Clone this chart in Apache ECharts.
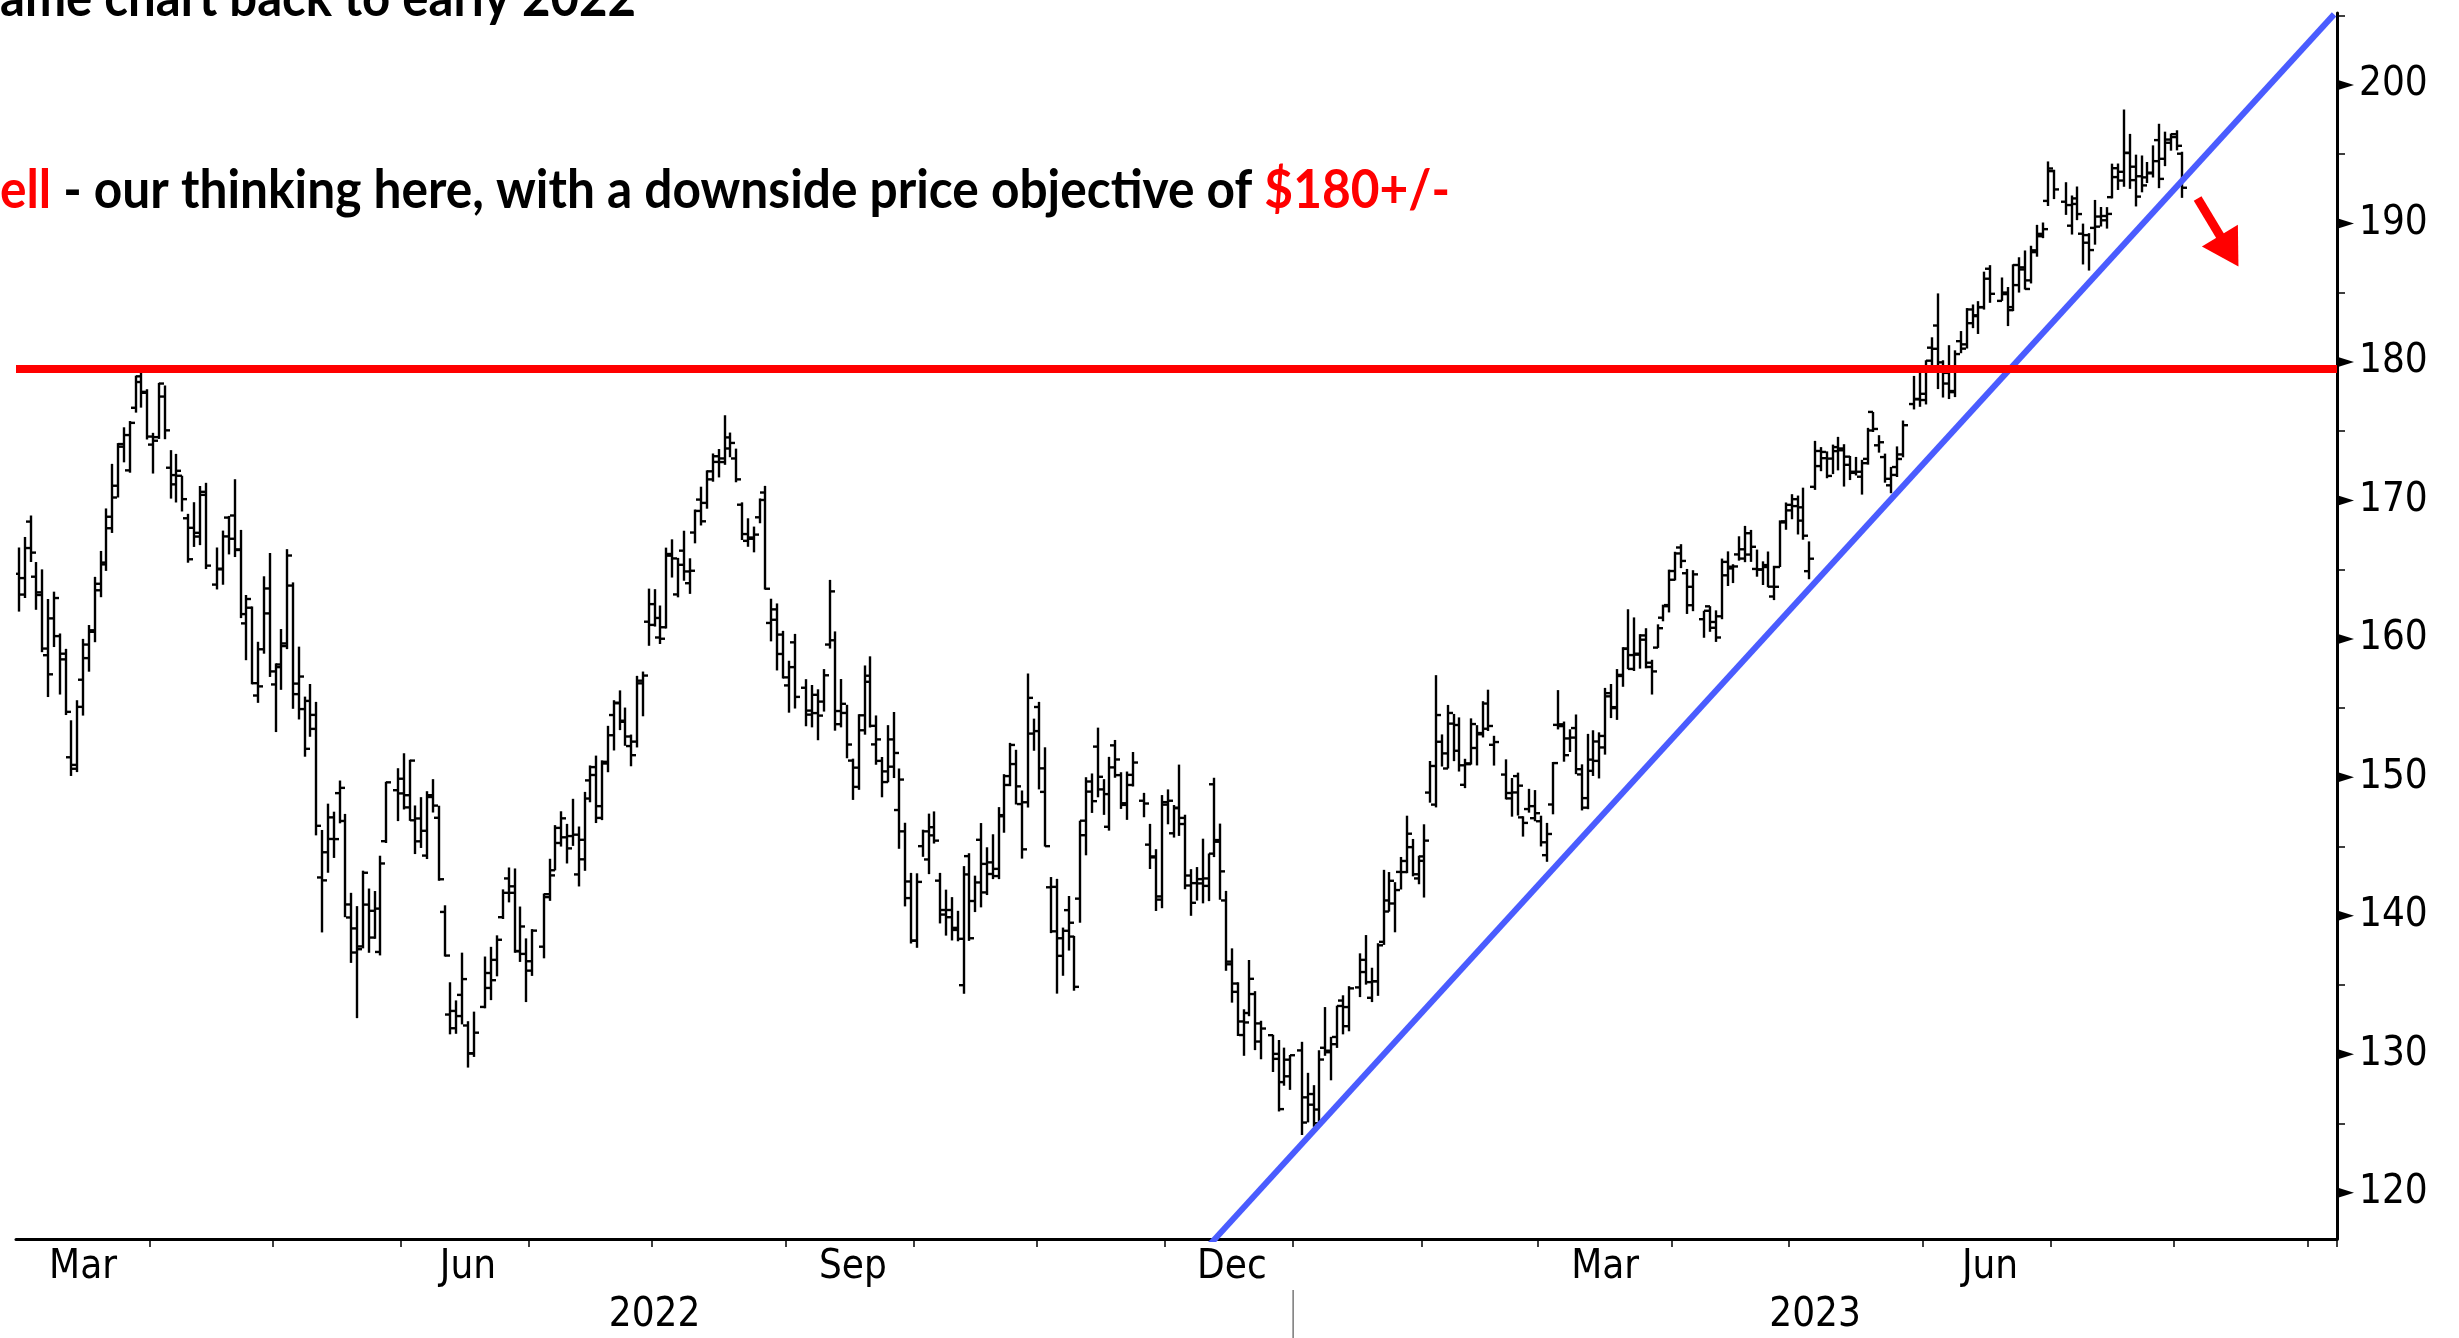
<!DOCTYPE html>
<html>
<head>
<meta charset="utf-8">
<script src="https://cdn.jsdelivr.net/npm/echarts@6/dist/echarts.min.js"></script>
<style>
html,body{margin:0;padding:0;background:#fff;}
#chart{width:2459px;height:1338px;}
</style>
</head>
<body>
<div id="chart"></div>
<script>
// ---------------- DATA (daily OHLC: [open, high, low, close]; null = market holiday) ----------------
const mar22 = [[164.70,166.60,161.97,163.20],[164.39,167.36,162.95,166.56],[168.47,168.91,165.55,166.23],[164.49,165.55,162.10,163.17],
[163.36,165.02,159.04,159.30],[158.82,162.88,155.80,157.44],[161.48,163.41,159.41,162.95],[160.20,160.39,155.98,158.52],[158.93,159.28,154.50,154.73],
[151.45,154.12,150.10,150.62],[150.90,155.57,150.38,155.09],[157.05,160.00,154.46,159.59],[158.61,161.00,157.63,160.62],[160.51,164.48,159.76,163.98],
[163.51,166.35,163.01,165.38],[165.51,169.42,164.91,168.82],[167.99,172.64,167.65,170.21],[171.06,174.14,170.21,174.07],[173.88,175.28,172.75,174.72],
[172.17,175.73,172.00,175.60],[176.69,179.01,176.34,178.96],[178.55,179.61,176.70,177.77],[177.84,178.03,174.40,174.61]];
const apr22 = [[174.03,174.88,171.94,174.31],
[174.57,178.49,174.44,178.44],[177.50,178.30,174.42,175.06],[172.36,173.63,170.13,171.83],[171.16,173.36,169.85,172.14],[171.78,171.78,169.20,170.09],
[168.71,169.03,165.50,165.75],[168.02,169.87,166.64,167.66],[167.39,171.04,166.77,170.40],[170.62,171.27,165.04,165.29],null,
[163.92,166.60,163.57,165.07],[165.02,167.82,163.91,167.40],[168.76,168.88,166.10,167.23],[168.91,171.53,165.91,166.42],[166.46,167.87,161.50,161.79],
[161.12,163.17,158.46,162.88],[162.25,162.34,156.72,156.80],[155.91,159.79,155.38,156.57],[159.25,164.52,158.93,163.64],[161.84,166.20,157.25,157.65]];
const may22 = [[156.71,158.23,153.27,157.96],[158.15,160.71,156.32,159.48],[159.67,166.48,159.26,166.02],[163.85,164.08,154.95,156.77],[156.01,159.44,154.18,157.28],
[154.93,155.83,151.49,152.06],[155.52,156.74,152.93,154.51],[153.50,155.45,145.81,146.50],[142.77,146.20,138.80,142.56],[144.59,148.10,143.11,147.11],
[145.55,147.52,144.18,145.54],[148.86,149.77,146.68,149.24],[146.85,147.36,139.90,140.82],[139.88,141.66,136.60,137.35],[139.09,140.70,132.61,137.59],
[137.79,143.26,137.65,143.11],[140.81,141.97,137.33,140.36],[138.43,141.79,138.34,140.52],[137.39,144.34,137.14,143.78],[145.39,149.68,145.26,149.64],
null,[149.07,150.66,146.84,148.84]];
const jun22 = [[149.90,151.74,147.68,148.71],[147.83,151.27,146.86,151.21],[146.90,147.97,144.46,145.38],
[147.03,148.57,144.90,146.14],[144.35,149.00,144.10,148.71],[148.58,149.87,147.46,147.96],[147.08,147.95,142.53,142.64],[140.28,140.76,137.06,137.13],
[132.87,135.20,131.44,131.88],[133.13,133.89,131.48,132.76],[134.29,137.34,132.16,135.43],[132.08,132.39,129.04,130.06],[130.07,133.08,129.81,131.56],
null,[133.42,137.06,133.32,135.87],[134.79,137.76,133.91,135.35],[136.82,138.59,135.63,138.27],[139.90,141.91,139.77,141.66],
[142.70,143.49,140.97,141.66],[142.13,143.42,137.33,137.44],[137.46,140.67,136.67,139.23],[137.25,138.37,133.77,136.72]];
const jul22 = [[136.04,139.04,135.66,138.93],
null,[137.77,141.61,136.93,141.56],[141.35,144.12,141.08,142.92],[143.29,146.55,143.28,146.35],[145.26,147.55,145.00,147.04],
[145.67,146.64,143.78,144.87],[145.76,148.45,145.05,145.86],[142.99,146.45,142.12,145.49],[144.08,148.95,143.25,148.47],[149.78,150.86,148.20,150.17],
[150.74,151.57,146.70,147.07],[147.92,151.23,146.91,151.00],[151.12,153.72,150.37,153.04],[154.50,155.57,151.94,155.35],[155.39,156.28,153.41,154.09],
[154.01,155.04,152.28,152.95],[152.26,153.09,150.80,151.60],[152.58,157.33,152.16,156.79],[156.98,157.64,154.41,157.35],[161.24,163.63,159.50,162.51]];
const aug22 = [[161.01,163.59,160.89,161.51],[160.10,162.41,159.63,160.01],[160.84,166.59,160.75,166.13],[166.01,167.19,164.43,165.81],[163.21,165.85,163.00,165.35],
[166.37,167.81,164.20,164.87],[164.02,165.82,163.25,164.92],[167.68,169.34,166.90,169.24],[170.06,170.99,168.19,168.49],[169.82,172.17,169.40,172.10],
[171.52,173.39,171.35,173.19],[172.78,173.71,171.66,173.03],[172.77,176.15,172.57,174.55],[173.75,174.90,173.12,174.15],[173.03,173.74,171.31,171.52],
[169.69,169.86,167.14,167.57],[167.08,168.71,166.65,167.23],[167.32,168.11,166.25,167.53],[168.78,170.14,168.35,170.03],[170.57,171.05,163.56,163.62],
[161.15,162.90,159.82,161.38],[162.13,162.56,157.72,158.91],[160.31,160.58,157.14,157.22]];
const sep22 = [[156.64,158.42,154.67,157.96],[159.75,160.36,154.97,155.81],
null,[156.47,157.09,153.69,154.53],[154.82,156.67,153.61,155.96],[154.64,156.36,152.68,154.46],[155.47,157.82,154.75,157.37],
[159.59,164.26,159.30,163.43],[159.90,160.54,153.37,153.84],[154.79,157.10,153.61,155.31],[154.65,155.24,151.38,152.37],[151.21,151.35,148.37,150.70],
[149.31,154.56,149.10,154.48],[153.40,158.08,153.08,156.90],[157.34,158.74,153.60,153.72],[152.38,154.47,150.91,152.74],[151.19,151.47,148.56,150.43],
[149.66,153.77,149.64,150.77],[152.74,154.72,149.95,151.76],[147.64,150.64,144.84,149.84],[146.10,146.72,140.68,142.48],[141.28,143.10,138.00,138.20]];
const oct22 = [[138.21,143.07,137.69,142.45],[145.03,146.22,144.26,146.10],[144.07,147.38,143.01,146.40],[145.81,147.54,145.22,145.43],[142.54,143.10,139.45,140.09],
[140.42,141.89,138.57,140.42],[139.90,141.35,138.22,138.98],[139.13,140.36,138.16,138.34],[134.99,143.59,134.37,142.99],[144.31,144.52,138.19,138.38],
[141.07,142.90,140.27,142.41],[145.49,146.70,140.61,143.75],[141.69,144.95,141.50,143.86],[143.02,145.89,142.65,143.39],[142.87,147.85,142.65,147.27],
[147.19,150.23,146.00,149.45],[150.09,152.49,149.36,152.34],[150.96,151.99,148.04,149.35],[148.07,149.05,144.13,144.80],[148.20,157.50,147.82,155.74],
[153.16,154.24,151.92,153.34]];
const nov22 = [[155.08,155.45,149.13,150.65],[148.95,152.17,145.00,145.03],[142.06,142.80,138.75,138.88],[142.09,142.67,134.38,138.38],
[137.11,139.15,135.67,138.92],[140.41,141.43,137.49,139.50],[138.50,138.55,134.59,134.87],[141.24,146.87,139.50,146.87],[145.82,150.01,144.37,149.70],
[148.97,150.28,147.43,148.28],[152.22,153.59,148.56,150.04],[149.13,149.87,147.29,148.79],[146.43,151.48,146.15,150.72],[152.31,152.70,149.97,151.29],
[150.16,150.37,147.72,148.01],[148.13,150.42,146.93,150.18],[149.45,151.83,149.34,151.07],null,[148.31,148.88,147.12,148.11],
[145.14,146.64,143.38,144.22],[144.29,144.81,140.35,141.17],[141.40,148.72,140.55,148.03]];
const dec22 = [[148.21,149.13,146.61,148.31],[145.96,148.00,145.65,147.81],
[147.77,150.92,145.77,146.63],[147.07,147.30,141.92,142.91],[142.19,143.37,140.00,140.94],[142.36,143.52,141.10,142.65],[142.34,145.57,140.90,142.16],
[142.70,144.50,141.06,144.49],[149.50,149.97,144.24,145.47],[145.35,146.66,141.16,143.21],[141.11,141.80,136.03,136.50],[136.69,137.65,133.73,134.51],
[135.11,135.20,131.32,132.37],[131.39,133.25,129.89,132.30],[132.98,136.81,132.75,135.45],[134.35,134.56,130.30,132.23],[130.92,132.42,129.64,131.86],
null,[131.38,131.41,128.72,130.03],[129.67,131.03,125.87,126.04],[127.99,130.48,127.73,129.61],[128.41,129.95,127.43,129.93]];
const jan23 = [null,[130.28,130.90,124.17,125.07],[126.89,128.66,125.08,126.36],[127.13,127.77,124.76,125.02],[126.01,130.29,124.89,129.62],
[130.47,133.41,129.89,130.15],[130.26,131.26,128.12,130.73],[131.25,133.51,130.46,133.49],[133.88,134.26,131.44,133.41],[132.03,134.92,131.66,134.76],
null,[134.83,137.29,134.13,135.94],[136.82,138.61,135.03,135.21],[134.08,136.25,133.77,135.27],[135.28,138.02,134.22,137.87],
[138.12,143.32,137.90,141.11],[140.31,143.16,140.30,142.53],[140.89,142.43,138.81,141.86],[143.17,144.25,141.90,143.96],[143.16,147.23,143.08,145.93],
[144.96,145.55,142.85,143.00],[142.70,144.34,142.28,144.29]];
const feb23 = [[143.97,146.61,141.32,145.43],[148.90,151.18,148.17,150.82],[148.03,157.38,147.83,154.50],
[152.57,153.10,150.78,151.73],[150.64,155.23,150.64,154.65],[153.88,154.58,151.17,151.92],[153.78,154.33,150.42,150.87],[149.46,151.34,149.22,151.01],
[150.95,154.26,150.92,153.85],[152.12,153.77,150.86,153.20],[153.11,155.50,152.88,155.33],[153.51,156.33,153.35,153.71],[152.35,153.00,150.85,152.55],
null,[150.20,151.30,148.41,148.48],[148.87,149.95,147.16,148.91],[150.09,150.34,147.24,149.40],[147.11,147.19,145.72,146.71],
[147.71,149.17,147.45,147.92],[147.05,149.08,146.83,147.41]];
const mar23 = [[146.83,147.23,145.01,145.31],[144.38,146.71,143.90,145.91],[148.04,151.11,147.33,151.03],
[153.79,156.30,153.46,153.83],[153.70,154.03,151.13,151.60],[152.81,153.47,151.83,152.87],[153.56,154.54,150.23,150.59],[150.21,150.94,147.61,148.50],
[147.81,153.14,147.70,150.47],[151.28,153.40,150.10,152.59],[151.19,153.25,149.92,152.99],[152.16,156.46,151.64,155.85],[156.08,156.74,154.28,155.00],
[155.07,157.82,154.15,157.40],[157.32,159.40,156.54,159.28],[159.30,162.14,157.81,157.83],[158.83,161.55,157.68,158.93],[158.86,160.34,157.85,160.25],
[159.94,160.77,157.87,158.28],[157.97,158.49,155.98,157.65],[159.37,161.05,159.35,160.77],[161.53,162.47,161.27,162.36],[162.44,165.00,161.91,164.90]];
const apr23 = [[164.27,166.29,164.22,166.17],[166.60,166.84,165.11,165.63],[164.74,165.05,161.80,163.76],[162.43,164.96,162.00,164.66],null,
[161.42,162.03,160.08,162.03],[162.35,162.36,160.51,160.80],[161.22,162.06,159.78,160.10],[161.63,165.80,161.42,165.56],[164.59,166.32,163.82,165.21],
[165.09,165.39,164.03,165.23],[166.10,167.41,165.65,166.47],[165.80,168.16,165.54,167.63],[166.09,167.87,165.56,166.65],[165.05,166.45,164.49,165.02],
[165.00,165.60,163.89,165.33],[165.19,166.31,163.73,163.77],[163.06,165.28,162.80,163.76],[165.19,168.56,165.19,168.41],[168.49,169.85,167.88,169.68]];
const may23 = [[169.28,170.45,168.64,169.59],[170.09,170.35,167.54,168.54],[169.50,170.92,167.16,167.45],[164.89,167.04,164.31,165.79],[170.98,174.30,170.76,173.57],
[172.48,173.85,172.11,173.50],[173.05,173.54,171.60,171.77],[173.02,174.03,171.90,173.56],[173.85,174.59,172.17,173.75],[173.62,174.06,171.00,172.57],
[173.16,173.21,171.47,172.07],[171.99,173.14,171.80,172.07],[171.71,172.93,170.42,172.69],[173.00,175.24,172.58,175.05],[176.39,176.39,174.94,175.16],
[173.98,174.71,173.45,174.20],[173.13,173.38,171.28,171.56],[171.09,172.42,170.52,171.84],[172.41,173.90,171.69,172.99],[173.32,175.77,173.11,175.43],
null,[176.96,178.99,176.57,177.30],[177.33,179.35,176.76,177.25]];
const jun23 = [[177.70,180.12,176.93,180.09],[181.03,181.78,179.26,180.95],
[182.63,184.95,178.04,179.58],[179.97,180.12,177.43,179.21],[178.44,181.21,177.32,177.82],[177.90,180.84,177.46,180.57],[181.50,182.23,180.63,180.96],
[181.27,183.89,180.97,183.79],[182.80,184.15,182.44,183.31],[183.37,184.39,182.02,183.95],[183.96,186.52,183.78,186.01],[186.73,186.99,184.27,184.92],
null,[184.41,186.10,184.41,185.01],[184.90,185.41,182.59,183.96],[183.74,187.05,183.67,187.00],[185.55,187.56,185.01,186.68],
[186.83,188.05,185.23,185.27],[185.89,188.39,185.67,188.06],[187.93,189.90,187.60,189.25],[189.08,190.07,188.94,189.59],[191.63,194.48,191.26,193.97]];
const jul23 = [[193.78,193.88,191.76,192.46],null,[191.57,192.98,190.62,191.33],[189.84,192.02,189.20,191.81],[191.41,192.67,190.24,190.68],
[189.26,189.99,187.04,188.61],[189.16,189.30,186.60,188.08],[189.68,191.70,188.47,189.77],[190.50,191.19,189.78,190.54],[190.23,191.18,189.63,190.69],
[191.90,194.32,191.81,193.99],[193.35,194.33,192.42,193.73],[193.10,198.23,192.65,195.10],[195.09,196.47,192.50,193.13],[194.10,194.97,191.23,191.94],
[193.41,194.91,192.25,192.75],[193.33,194.44,192.92,193.62],[193.67,195.64,193.32,194.50],[196.02,197.20,192.55,193.22],[194.67,196.63,194.14,195.83],
[196.06,196.49,195.26,196.45]];
const aug23 = [[196.24,196.73,195.28,195.61],[195.04,195.18,191.85,192.58]];

const monthData = [
  ['2022-03', mar22], ['2022-04', apr22], ['2022-05', may22], ['2022-06', jun22], ['2022-07', jul22], ['2022-08', aug22],
  ['2022-09', sep22], ['2022-10', oct22], ['2022-11', nov22], ['2022-12', dec22], ['2023-01', jan23], ['2023-02', feb23],
  ['2023-03', mar23], ['2023-04', apr23], ['2023-05', may23], ['2023-06', jun23], ['2023-07', jul23], ['2023-08', aug23]
];
const axisStart = '2022-03-01';
const axisEnd = '2023-09-07';
const monthNames = ['Jan','Feb','Mar','Apr','May','Jun','Jul','Aug','Sep','Oct','Nov','Dec'];
const labelledMonths = ['2022-03','2022-06','2022-09','2022-12','2023-03','2023-06'];
const yearLabels = ['2022', '2023'];
const yTickLabels = [120, 130, 140, 150, 160, 170, 180, 190, 200];
const yMinorTicks = [120,125,130,135,140,145,150,155,160,165,170,175,180,185,190,195,200,205];
const resistanceLevel = 179.5;
const trendPoints = [['2022-12-09', 115.7], ['2023-09-07', 205.1]];
const arrowFrom = [373.6, 191.8];  // [weekday index, price]
const arrowTo = [380.6, 186.9];
const titleLine1 = 'ame chart back to early 2022';
const titleLine2 = ['ell', ' - our thinking here, with a downside price objective of ', '$180+/-'];

// ---------------- build weekday categories ----------------
function fmt(d){ return d.toISOString().slice(0,10); }
const categories = [];
for (let d = new Date(axisStart + 'T00:00:00Z'); fmt(d) <= axisEnd; d.setUTCDate(d.getUTCDate()+1)) {
  const wd = d.getUTCDay();
  if (wd !== 0 && wd !== 6) categories.push(fmt(d));
}
const ohlc = [];
monthData.forEach(([ym, arr]) => {
  const days = categories.filter(c => c.slice(0,7) === ym);
  arr.forEach((v, k) => {
    if (v) ohlc.push([categories.indexOf(days[k]), v[0], v[1], v[2], v[3]]);
  });
});
const monthStart = {}, monthCount = {};
categories.forEach((c, i) => {
  const ym = c.slice(0,7);
  if (monthStart[ym] === undefined) { monthStart[ym] = i; monthCount[ym] = 0; }
  monthCount[ym]++;
});
const labelIdx = new Set(labelledMonths.map(m => monthStart[m] + Math.round((monthCount[m]-1)/2)));
const tickIdx = new Set(Object.keys(monthStart).map(m => monthStart[m]).filter(i => i > 0));

// ---------------- chart ----------------
const chart = echarts.init(document.getElementById('chart'), null, {renderer: 'canvas'});
const axisFont = "'DejaVu Sans Condensed', 'DejaVu Sans', sans-serif";

function renderOHLC(params, api) {
  const i = api.value(0);
  const top = api.coord([i, api.value(2)]);
  const bot = api.coord([i, api.value(3)]);
  const po = api.coord([i, api.value(1)]);
  const pc = api.coord([i, api.value(4)]);
  const x = Math.round(top[0]);
  const t = 5;
  const st = {stroke: '#000', lineWidth: 2.4};
  return {type: 'group', children: [
    {type: 'line', shape: {x1: x, y1: top[1], x2: x, y2: bot[1]}, style: st},
    {type: 'line', shape: {x1: x - t, y1: po[1], x2: x, y2: po[1]}, style: st},
    {type: 'line', shape: {x1: x, y1: pc[1], x2: x + t, y2: pc[1]}, style: st}
  ]};
}

chart.setOption({
  animation: false,
  backgroundColor: '#fff',
  grid: {left: 16, right: 122, top: 13, bottom: 99, containLabel: false},
  xAxis: {
    type: 'category', data: categories, boundaryGap: true,
    axisLine: {show: true, lineStyle: {color: '#000', width: 3}},
    axisTick: {show: true, length: 8, lineStyle: {color: '#000', width: 1.5},
      interval: (i) => tickIdx.has(i)},
    axisLabel: {show: true, margin: 9, fontSize: 40, color: '#000', fontFamily: axisFont,
      interval: (i) => labelIdx.has(i),
      formatter: (v) => monthNames[parseInt(v.slice(5,7),10)-1]},
    splitLine: {show: false}
  },
  yAxis: {
    type: 'value', position: 'right', min: 116.66, max: 205.2, scale: true,
    axisLine: {show: true, lineStyle: {color: '#000', width: 3}},
    axisTick: {show: true, length: 8, inside: false, customValues: yMinorTicks, lineStyle: {color: '#000', width: 1.5}},
    axisLabel: {show: true, margin: 22, fontSize: 40, color: '#000', fontFamily: axisFont, customValues: yTickLabels},
    splitLine: {show: false}
  },
  series: [
    {type: 'custom', name: 'OHLC', renderItem: renderOHLC, data: ohlc, encode: {x: 0, y: [1,2,3,4]}, clip: true, z: 2},
    {type: 'line', name: 'trend', data: trendPoints, symbol: 'none', clip: true, z: 3,
      lineStyle: {color: '#4a5cff', width: 6},
      markLine: {silent: true, symbol: 'none', label: {show: false},
        lineStyle: {color: '#ff0000', width: 8, type: 'solid'},
        data: [{yAxis: resistanceLevel}]}
    }
  ]
});

// ---------------- annotations positioned from data coordinates ----------------
function xCenter(i) { return chart.convertToPixel({xAxisIndex: 0}, categories[i]); }
const band = xCenter(1) - xCenter(0);
function xAt(idx) { return xCenter(0) + idx * band; }
function xBoundary(i) { return xCenter(0) + (i - 0.5) * band; }
function yAt(v) { return chart.convertToPixel({yAxisIndex: 0}, v); }
const axisY = yAt(116.66);
const axisX = xBoundary(categories.length);

const graphics = [];
yTickLabels.forEach(v => {
  const y = yAt(v);
  graphics.push({type: 'polygon', shape: {points: [[axisX + 1, y - 5], [axisX + 1, y + 5], [axisX + 17, y]]},
    style: {fill: '#000'}, z: 10});
});
const janIdx = monthStart['2023-01'];
const yearSpans = [[0, janIdx], [janIdx, categories.length]];
yearLabels.forEach((t, k) => {
  const cx = (xBoundary(yearSpans[k][0]) + xBoundary(yearSpans[k][1])) / 2;
  graphics.push({type: 'text', x: cx, y: axisY + 77, style: {text: t, font: "40px " + axisFont, fill: '#000', align: 'center', verticalAlign: 'middle'}, z: 10});
});
graphics.push({type: 'line', shape: {x1: xBoundary(janIdx), y1: axisY + 51, x2: xBoundary(janIdx), y2: 1338},
  style: {stroke: '#777', lineWidth: 1.5}, z: 10});
// red arrow
const ax1 = xAt(arrowFrom[0]), ay1 = yAt(arrowFrom[1]);
const ax2 = xAt(arrowTo[0]), ay2 = yAt(arrowTo[1]);
const ang = Math.atan2(ay2 - ay1, ax2 - ax1);
const headLen = 36, headHalf = 21;
const bx = ax2 - headLen * Math.cos(ang), by = ay2 - headLen * Math.sin(ang);
const nx = -Math.sin(ang), ny = Math.cos(ang);
graphics.push({type: 'line', shape: {x1: ax1, y1: ay1, x2: bx + 2*Math.cos(ang), y2: by + 2*Math.sin(ang)}, style: {stroke: '#ff0000', lineWidth: 9}, z: 10});
graphics.push({type: 'polygon', shape: {points: [[ax2, ay2], [bx + nx*headHalf, by + ny*headHalf], [bx - nx*headHalf, by - ny*headHalf]]},
  style: {fill: '#ff0000'}, z: 10});

// title lines (cut off at left/top as in the original)
const titleFont = 'bold 54px Lato, "Open Sans", sans-serif';
const ctx = document.createElement('canvas').getContext('2d');
ctx.font = titleFont;
const w1 = ctx.measureText(titleLine1).width;
const w2 = ctx.measureText(titleLine2.join('')).width;
graphics.push({type: 'text', x: 0, y: 26, scaleX: 636 / w1,
  style: {text: titleLine1, font: titleFont, fill: '#000', align: 'left', verticalAlign: 'bottom'}, z: 10});
graphics.push({type: 'text', x: 0, y: 218, scaleX: 1450 / w2,
  style: {text: '{r|' + titleLine2[0] + '}{k|' + titleLine2[1] + '}{r|' + titleLine2[2] + '}',
    font: titleFont, align: 'left', verticalAlign: 'bottom',
    rich: {r: {fill: '#ff0000', font: titleFont}, k: {fill: '#000', font: titleFont}}}, z: 10});

chart.setOption({graphic: {elements: graphics}});
</script>
</body>
</html>
